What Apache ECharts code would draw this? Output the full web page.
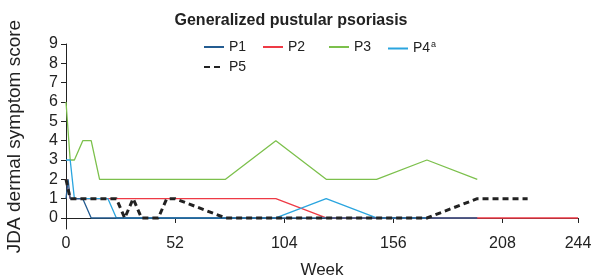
<!DOCTYPE html>
<html>
<head>
<meta charset="utf-8">
<script src="https://cdn.jsdelivr.net/npm/echarts@6/dist/echarts.min.js"></script>
<style>
  html, body { margin: 0; padding: 0; background: #fff; }
  #chart { width: 601px; height: 280px; }
</style>
</head>
<body>
<div id="chart"></div>
<script>
// weeks / scores
var p1Weeks = [0, 1, 2, 8, 12, 196];
var p1Scores = [1, 2, 1, 1, 0, 0];
var p2Weeks = [0, 2, 100, 124, 244];
var p2Scores = [2, 1, 1, 0, 0];
var p3Weeks = [0, 2, 4, 8, 12, 16, 76, 100, 124, 148, 172, 196];
var p3Scores = [6, 3, 3, 4, 4, 2, 2, 4, 2, 2, 3, 2];
var p4Weeks = [0, 2, 4, 20, 24, 100, 124, 148, 172];
var p4Scores = [3, 3, 1, 1, 0, 0, 1, 0, 0];
var p5Weeks = [0, 2, 24, 28, 32, 36, 44, 48, 52, 76, 172, 196, 220];
var p5Scores = [2, 1, 1, 0, 1, 0, 0, 1, 1, 0, 0, 1, 1];
var xTicks = [0, 52, 104, 156, 208, 244];
var yTicks = [0, 1, 2, 3, 4, 5, 6, 7, 8, 9];

function pairs(w, s) {
  return w.map(function (x, i) { return [x, s[i]]; });
}

var font = 'Liberation Sans, Arial, sans-serif';

function makeLine(name, w, s, color, z, dashed) {
  return {
    name: name,
    type: 'line',
    data: pairs(w, s),
    symbol: 'none',
    z: z,
    lineStyle: dashed
      ? { color: color, width: 3, type: [6, 4] }
      : { color: color, width: 1.3 },
    itemStyle: { color: color }
  };
}

function legendAt(name, left, top) {
  return {
    data: [name],
    left: left,
    top: top,
    itemWidth: 20,
    itemHeight: 10,
    itemGap: 0,
    padding: 0,
    itemStyle: { opacity: 0 },
    textStyle: {
      fontFamily: font,
      fontSize: 14,
      color: '#222',
      rich: {
        n: { fontFamily: font, fontSize: 14, color: '#222' },
        s: { fontFamily: font, fontSize: 9, color: '#222', verticalAlign: 'top', padding: [0, 0, 8, 1] }
      }
    },
    formatter: name === 'P4' ? '{n|P4}{s|a}' : '{n|' + name + '}'
  };
}

var chart = echarts.init(document.getElementById('chart'));
chart.setOption({
  animation: false,
  title: {
    text: 'Generalized pustular psoriasis',
    left: 286,
    textAlign: 'center',
    top: 8,
    textStyle: { fontFamily: font, fontSize: 16, fontWeight: 'bold', color: '#222' }
  },
  legend: [
    legendAt('P1', 203, 40),
    legendAt('P2', 262, 40),
    legendAt('P3', 328, 40),
    legendAt('P4', 387, 40),
    legendAt('P5', 203, 60)
  ],
  grid: { left: 66, right: 23, top: 44, bottom: 51, outerBoundsMode: 'none', containLabel: false },
  xAxis: {
    type: 'value',
    min: 0,
    max: 244,
    name: 'Week',
    nameLocation: 'middle',
    nameGap: 33,
    nameTextStyle: { fontFamily: font, fontSize: 17, color: '#222' },
    axisLine: { lineStyle: { color: '#222', width: 1 } },
    axisTick: { customValues: xTicks, length: 5, lineStyle: { color: '#222' } },
    axisLabel: { customValues: xTicks, fontFamily: font, fontSize: 16, color: '#222', margin: 7 },
    splitLine: { show: false }
  },
  yAxis: {
    type: 'value',
    min: -0.57,
    max: 9,
    name: 'JDA dermal symptom score',
    nameLocation: 'middle',
    nameGap: 42,
    nameTextStyle: { fontFamily: font, fontSize: 19, color: '#222' },
    axisLine: { show: true, lineStyle: { color: '#222', width: 1 } },
    axisTick: { show: true, customValues: yTicks, length: 5, lineStyle: { color: '#222' } },
    axisLabel: { customValues: yTicks, fontFamily: font, fontSize: 16, color: '#222', margin: 8 },
    splitLine: { show: false }
  },
  series: [
    makeLine('P1', p1Weeks, p1Scores, '#245c91', 5, false),
    makeLine('P2', p2Weeks, p2Scores, '#ee3a45', 2, false),
    makeLine('P3', p3Weeks, p3Scores, '#7cc04c', 3, false),
    makeLine('P4', p4Weeks, p4Scores, '#2aa5df', 4, false),
    makeLine('P5', p5Weeks, p5Scores, '#222222', 6, true)
  ]
});
</script>
</body>
</html>
